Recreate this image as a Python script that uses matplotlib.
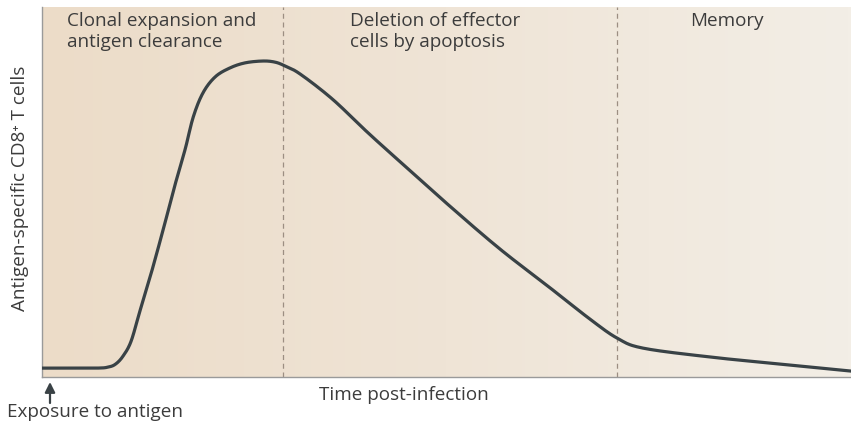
import numpy as np
import matplotlib
matplotlib.use("Agg")
import matplotlib.pyplot as plt
from matplotlib.colors import LinearSegmentedColormap

# Data (arbitrary units: time 0-100, cell count 0-100)
time_pts = [0, 6.6, 8.2, 9.1, 10.0, 11.0, 12.1, 13.4, 15.0, 16.4, 17.7, 18.7, 19.9,
            21.4, 23.2, 25.1, 27.3, 28.8, 30.0, 31.9, 35.9, 40.2, 44.3, 50.4, 56.6,
            62.8, 67.7, 71.1, 74.3, 82.6, 91.2, 100]
cells = [2.4, 2.4, 2.7, 3.5, 5.6, 9.6, 17.8, 27.3, 40.0, 51.6, 61.6, 70.3, 76.8,
         81.1, 83.5, 84.9, 85.4, 85.1, 84.1, 81.9, 75.1, 66.2, 58.1, 46.2, 34.6,
         24.1, 15.7, 10.5, 7.8, 5.4, 3.5, 1.6]
phase_bounds = [29.8, 71.1]
phase_labels = ["Clonal expansion and\nantigen clearance",
                "Deletion of effector\ncells by apoptosis",
                "Memory"]
xlabel = "Time post-infection"
ylabel = "Antigen-specific CD8\u207a T cells"
exposure_label = "Exposure to antigen"


def smooth_curve(x, y, n=20):
    """Catmull-Rom rendering of the line through the given points."""
    x = np.asarray(x, float)
    y = np.asarray(y, float)
    P = np.column_stack([x, y])
    P = np.vstack([P[0], P, P[-1]])
    out = []
    t = np.linspace(0, 1, n, endpoint=False)[:, None]
    for i in range(1, len(P) - 2):
        p0, p1, p2, p3 = P[i - 1], P[i], P[i + 1], P[i + 2]
        seg = 0.5 * ((2 * p1) + (-p0 + p2) * t + (2 * p0 - 5 * p1 + 4 * p2 - p3) * t ** 2
                     + (-p0 + 3 * p1 - 3 * p2 + p3) * t ** 3)
        out.append(seg)
    out.append(P[-2][None, :])
    out = np.vstack(out)
    return out[:, 0], out[:, 1]


fam = ["Open Sans", "DejaVu Sans"]
txt_color = "#3c3c3c"
fs = 13.6

fig = plt.figure(figsize=(8.51, 4.27), dpi=100)
ax = fig.add_axes([42/851, 49/427, 809/851, 370/427])
ax.set_xlim(0, 100)
ax.set_ylim(0, 100)

# background gradient
cmap = LinearSegmentedColormap.from_list("bg", ["#ecdcc8", "#efe4d6", "#f3eee6"])
grad = np.linspace(0, 1, 256)[None, :]
ax.imshow(grad, extent=[0, 100, 0, 100], aspect="auto", cmap=cmap, zorder=0)

for b in phase_bounds:
    ax.axvline(b, color="#9c8e82", lw=0.9, ls=(0, (4, 3)), zorder=1)

sx, sy = smooth_curve(time_pts, cells)
ax.plot(sx, sy, color="#394246", lw=2.3, solid_capstyle="round", zorder=3)

for s in ["top", "right"]:
    ax.spines[s].set_visible(False)
for s in ["left", "bottom"]:
    ax.spines[s].set_color("#9a9a9a")
    ax.spines[s].set_linewidth(1.0)
ax.set_xticks([])
ax.set_yticks([])

ax.text(3.1, 98.8, phase_labels[0], ha="left", va="top", fontsize=fs,
        color=txt_color, family=fam, linespacing=1.2)
ax.text(38.1, 98.8, phase_labels[1], ha="left", va="top", fontsize=fs,
        color=txt_color, family=fam, linespacing=1.2)
ax.text(84.7, 98.8, phase_labels[2], ha="center", va="top", fontsize=fs,
        color=txt_color, family=fam)

fig.text(404/851, 1 - 395/427, xlabel, ha="center", va="center", fontsize=fs,
         color=txt_color, family=fam)
fig.text(20/851, 1 - 188/427, ylabel, ha="center", va="center", rotation=90,
         fontsize=fs, color=txt_color, family=fam)
fig.text(7/851, 1 - 412/427, exposure_label, ha="left", va="center", fontsize=fs,
         color=txt_color, family=fam)

# arrow for exposure
fig.patches.append(matplotlib.patches.FancyArrowPatch(
    (50/851, 1 - 404/427), (50/851, 1 - 383/427), transform=fig.transFigure,
    arrowstyle="-|>,head_length=6,head_width=3", color="#3a4246", lw=1.6,
    shrinkA=0, shrinkB=0))

fig.savefig("out.png", dpi=100)
